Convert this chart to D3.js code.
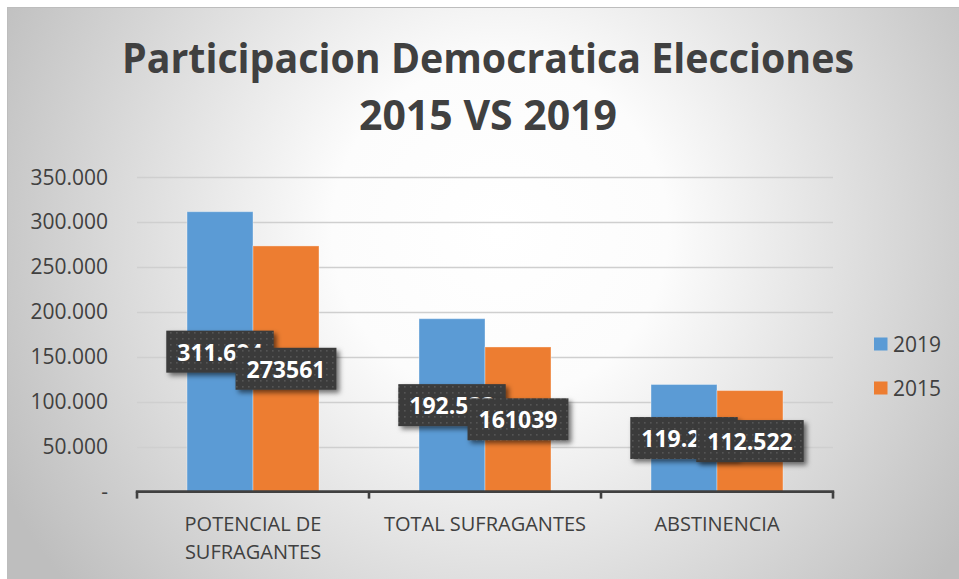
<!DOCTYPE html>
<html>
<head>
<meta charset="utf-8">
<script src="https://cdn.jsdelivr.net/npm/d3@7"></script>
<style>
  html, body { margin: 0; padding: 0; background: #fff; }
  svg { display: block; }
</style>
</head>
<body>
<div id="chart"></div>
<script>
let categories = ['POTENCIAL DE SUFRAGANTES', 'TOTAL SUFRAGANTES', 'ABSTINENCIA']
let series = ['2019', '2015']
let values2019 = [311694, 192533, 119274]
let values2015 = [273561, 161039, 112522]
let labels2019 = ['311.694', '192.533', '119.274']
let labels2015 = ['273561', '161039', '112.522']
let yTicks = [0, 50000, 100000, 150000, 200000, 250000, 300000, 350000]
let titleLines = ['Participacion Democratica Elecciones', '2015 VS 2019']

let width = 959
let height = 579
let colors = { '2019': '#5b9bd5', '2015': '#ed7d31' }
let textColor = '#404040'
let font = '"Open Sans", "DejaVu Sans", sans-serif'

let plot = { left: 137, right: 833, top: 177.3, bottom: 491.6 }

let svg = d3.select('#chart').append('svg')
  .attr('width', width)
  .attr('height', height)

let defs = svg.append('defs')

let grad = defs.append('radialGradient')
  .attr('id', 'bg')
  .attr('gradientUnits', 'userSpaceOnUse')
  .attr('cx', 500).attr('cy', 230).attr('r', 560)
grad.append('stop').attr('offset', 0).attr('stop-color', '#ffffff')
grad.append('stop').attr('offset', 0.3).attr('stop-color', '#fcfcfc')
grad.append('stop').attr('offset', 1).attr('stop-color', '#bebebe')

let pat = defs.append('pattern')
  .attr('id', 'dots')
  .attr('patternUnits', 'userSpaceOnUse')
  .attr('width', 6).attr('height', 6)
pat.append('rect').attr('width', 6).attr('height', 6).attr('fill', '#3b3b3b')
pat.append('rect').attr('x', 2).attr('y', 2).attr('width', 1.6).attr('height', 1.6).attr('fill', '#555555')

let shadow = defs.append('filter')
  .attr('id', 'shadow')
  .attr('x', '-20%').attr('y', '-30%').attr('width', '150%').attr('height', '170%')
shadow.append('feDropShadow')
  .attr('dx', 3).attr('dy', 3)
  .attr('stdDeviation', 2.5)
  .attr('flood-color', '#000')
  .attr('flood-opacity', 0.55)

// background panel
svg.append('rect')
  .attr('x', 7.5).attr('y', 7.5)
  .attr('width', width).attr('height', height)
  .attr('fill', 'url(#bg)')
  .attr('stroke', '#bdbdbd')
  .attr('stroke-width', 1)

// title
let title = svg.append('g')
  .attr('font-family', font)
  .attr('font-weight', 700)
  .attr('font-size', 41)
  .attr('fill', textColor)
  .attr('text-anchor', 'middle')

title.selectAll('text')
  .data(titleLines)
  .join('text')
  .attr('x', 488)
  .attr('y', (d, i) => i === 0 ? 72.7 : 130)
  .text(d => d)
  .each(function (d, i) {
    // the original face is narrower, squeeze the long line to its width
    if (i === 0 && this.getComputedTextLength() > 732) {
      d3.select(this).attr('textLength', 732).attr('lengthAdjust', 'spacingAndGlyphs')
    }
  })

// scales
let y = d3.scaleLinear()
  .domain([0, 350000])
  .range([plot.bottom, plot.top])

let x0 = d3.scaleBand()
  .domain(categories)
  .range([plot.left, plot.right])
  .paddingInner(0)
  .paddingOuter(0)

let x1 = d3.scaleBand()
  .domain(series)
  .range([0, x0.bandwidth()])
  .paddingInner(0)
  .paddingOuter(0.758)

// gridlines
svg.append('g')
  .selectAll('line')
  .data(yTicks.filter(d => d > 0))
  .join('line')
  .attr('x1', plot.left)
  .attr('x2', plot.right)
  .attr('y1', d => Math.round(y(d)) + 0.5)
  .attr('y2', d => Math.round(y(d)) + 0.5)
  .attr('stroke', '#cfcfcf')
  .attr('stroke-width', 1.5)

// y axis labels
let yAxis = svg.append('g')
  .attr('transform', `translate(${plot.left}, 0)`)
  .call(d3.axisLeft(y)
    .tickValues(yTicks)
    .tickSize(0)
    .tickPadding(29)
    .tickFormat(d => d === 0 ? '-' : d3.format(',.3f')(d / 1000).replace(',', '.')))
yAxis.select('.domain').remove()
yAxis.selectAll('text')
  .attr('font-family', font)
  .attr('font-size', 21)
  .attr('fill', textColor)

// bars
let rows = categories.map((c, i) => ({
  category: c,
  points: [
    { key: '2019', value: values2019[i], label: labels2019[i] },
    { key: '2015', value: values2015[i], label: labels2015[i] }
  ]
}))

let groups = svg.append('g')
  .selectAll('g')
  .data(rows)
  .join('g')
  .attr('transform', d => `translate(${x0(d.category)}, 0)`)

groups.selectAll('rect')
  .data(d => d.points)
  .join('rect')
  .attr('x', d => x1(d.key))
  .attr('y', d => y(d.value))
  .attr('width', x1.bandwidth())
  .attr('height', d => y(0) - y(d.value))
  .attr('fill', d => colors[d.key])
  .attr('stroke', 'rgba(255,255,255,0.35)')
  .attr('stroke-width', 1)

// x axis
let xAxis = svg.append('g')
  .attr('transform', `translate(0, ${plot.bottom})`)
  .call(d3.axisBottom(x0).tickSize(0).tickFormat(''))
xAxis.select('.domain').remove()
xAxis.append('line')
  .attr('x1', plot.left - 1.2)
  .attr('x2', plot.right + 1.2)
  .attr('stroke', textColor)
  .attr('stroke-width', 2.6)
xAxis.selectAll('.edge')
  .data([plot.left].concat(categories.map(c => x0(c) + x0.bandwidth())))
  .join('line')
  .attr('class', 'edge')
  .attr('x1', d => d)
  .attr('x2', d => d)
  .attr('y1', 0)
  .attr('y2', 7)
  .attr('stroke', textColor)
  .attr('stroke-width', 2.6)

// category labels, wrapped to the band width
let catText = svg.append('g')
  .attr('font-family', font)
  .attr('font-size', 20)
  .attr('fill', textColor)
  .attr('text-anchor', 'middle')
  .selectAll('text')
  .data(categories)
  .join('text')
  .attr('x', d => x0(d) + x0.bandwidth() / 2)
  .attr('y', 531)

catText.each(function (d) {
  let el = d3.select(this)
  let words = d.split(' ')
  let lines = []
  let line = []
  let probe = el.append('tspan')
  words.forEach(w => {
    line.push(w)
    probe.text(line.join(' '))
    if (probe.node().getComputedTextLength() > x0.bandwidth() - 10 && line.length > 1) {
      line.pop()
      lines.push(line.join(' '))
      line = [w]
    }
  })
  lines.push(line.join(' '))
  probe.remove()
  el.selectAll('tspan')
    .data(lines)
    .join('tspan')
    .attr('x', el.attr('x'))
    .attr('dy', (l, i) => i === 0 ? 0 : 28)
    .text(l => l)
})

// data labels (they overlap each other in the original, kept that way)
let labelLayer = svg.append('g')
  .attr('font-family', font)
  .attr('font-weight', 700)
  .attr('font-size', 23)

rows.forEach(row => {
  row.points.forEach(p => {
    let cx = x0(row.category) + x1(p.key) + x1.bandwidth() / 2
    let cy = y(p.value / 2)
    let g = labelLayer.append('g')
    let box = g.append('rect')
    let t = g.append('text')
      .attr('x', cx)
      .attr('y', cy)
      .attr('text-anchor', 'middle')
      .attr('dominant-baseline', 'central')
      .attr('fill', '#ffffff')
      .text(p.label)
    let w = t.node().getComputedTextLength() + 22
    box.attr('x', cx - w / 2)
      .attr('y', cy - 21)
      .attr('width', w)
      .attr('height', 42)
      .attr('fill', 'url(#dots)')
      .attr('filter', 'url(#shadow)')
  })
})

// legend
let legend = svg.append('g')
  .attr('font-family', font)
  .attr('font-size', 21)
  .attr('fill', textColor)
  .selectAll('g')
  .data(series)
  .join('g')
  .attr('transform', (d, i) => `translate(874, ${344 + i * 44})`)

legend.append('rect')
  .attr('x', 0)
  .attr('y', -6.5)
  .attr('width', 13.5)
  .attr('height', 13)
  .attr('fill', d => colors[d])

legend.append('text')
  .attr('x', 19)
  .attr('y', 0)
  .attr('dominant-baseline', 'central')
  .text(d => d)
</script>
</body>
</html>
